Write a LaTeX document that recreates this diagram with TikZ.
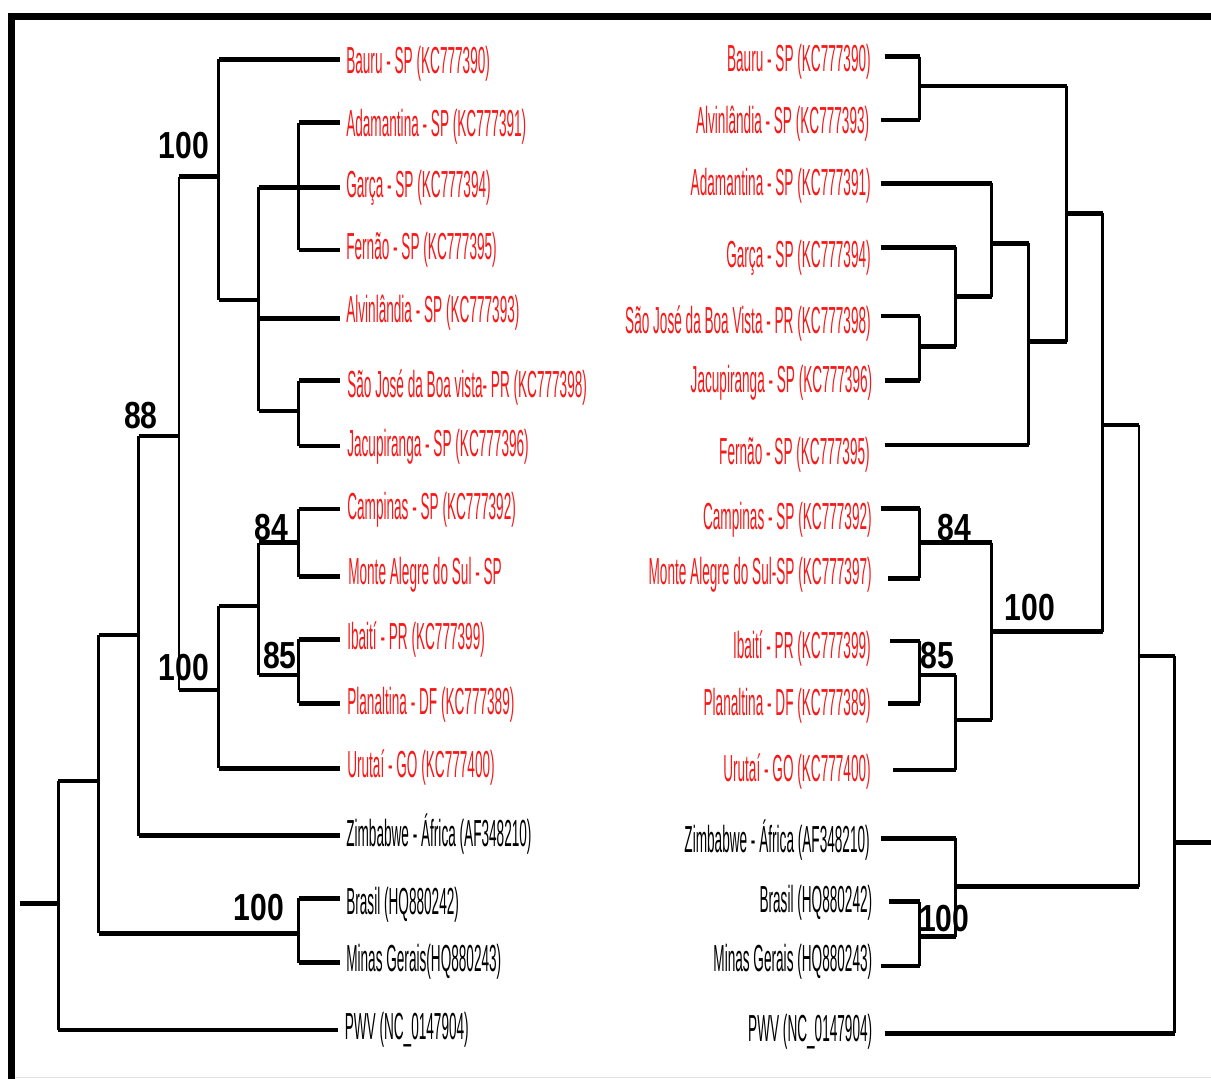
\documentclass[tikz,border=0pt]{standalone}
\usepackage{fontspec}
\setmainfont{Liberation Sans}
\usetikzlibrary{positioning}
\definecolor{isored}{RGB}{245,25,25}
\definecolor{edgegray}{RGB}{225,225,225}
\newcommand\nar[1]{\scalebox{0.361}[1]{#1}}
\newcommand\bsv[1]{\scalebox{0.8}[1]{#1}}

\begin{document}
\begin{tikzpicture}[x=0.025cm,y=-0.025cm,every node/.style={inner sep=0pt,font=\fontsize{26.8}{30}\selectfont},
 hb/.style={line width=3.2pt},vb/.style={line width=2.1pt},
 tipL/.style={anchor=west,text height=25pt,text depth=5.6pt},tipR/.style={anchor=east,text height=25pt,text depth=5.6pt},
 iso/.style={text=isored},boot/.style={font=\fontsize{26.8}{30}\selectfont\bfseries}]
\useasboundingbox(0,0)rectangle(1211,1079);
% frame
\draw[line width=5pt](11.9,1079)--(11.9,16.3)--(1211,16.3);
\draw[edgegray,line width=1pt](15,1077.5)--(1211,1077.5);
% left tree
\coordinate(L1)at(339.5,59.3);\coordinate(L2)at(339.5,122.7);\coordinate(L3)at(339.5,187.3);\coordinate(L4)at(339.5,250);
\coordinate(L5)at(339.5,318.3);\coordinate(L6)at(339.5,380.7);\coordinate(L7)at(339.5,446);\coordinate(L8)at(339.5,509);
\coordinate(L9)at(339.5,576.7);\coordinate(L10)at(339.5,639.3);\coordinate(L11)at(339.5,703.3);\coordinate(L12)at(339.5,768.3);
\coordinate(L13)at(339.5,835.7);\coordinate(L14)at(339.5,898.3);\coordinate(L15)at(339.5,962.7);\coordinate(L16)at(338.3,1030);
\coordinate(a1)at(298.5,187.3);\coordinate(a2)at(258.7,300);\coordinate(a3)at(298.5,411);\coordinate(a4)at(218.9,176.7);
\coordinate(a5)at(298.5,542.7);\coordinate(a6)at(298.5,675);\coordinate(a7)at(258.7,606);\coordinate(a8)at(218.9,690);
\coordinate(a9)at(179,436);\coordinate(a10)at(138.5,635);\coordinate(a11)at(298.5,933.3);\coordinate(a12)at(98.7,781);
\coordinate(a13)at(58.2,903.3);\coordinate(rootL)at(19.9,903.3);
\foreach \p/\c in {a1/L2,a1/L4,a2/L3,a2/L5,a2/a3,a3/L6,a3/L7,a4/L1,a4/a2,a5/L8,a5/L9,a6/L10,a6/L11,a7/a5,a7/a6,a8/a7,a8/L12,
 a9/a4,a9/a8,a10/a9,a10/L13,a11/L14,a11/L15,a12/a10,a12/a11,a13/a12,a13/L16}
 \draw[hb](\p|-\c)--(\c);
\foreach \p/\u/\d in {a1/L2/L4,a2/L3/a3,a3/L6/L7,a4/L1/a2,a5/L8/L9,a6/L10/L11,a7/a5/a6,a8/a7/L12,a9/a4/a8,a10/a9/L13,
 a11/L14/L15,a12/a10/a11,a13/a12/L16}
 \draw[vb](\p|-\u)--(\p|-\d);
\draw[hb](rootL)--(a13);
% left labels
\node[tipL,iso](lBau)at(346,59.5){\nar{Bauru - SP (KC777390)}};
\node[tipL,iso](lAda)at(346,122.6){\nar{Adamantina - SP (KC777391)}};
\node[tipL,iso](lGar)at(346,183.5){\nar{Garça - SP (KC777394)}};
\node[tipL,iso](lFer)at(346,246){\nar{Fernão - SP (KC777395)}};
\node[tipL,iso](lAlv)at(346,309){\nar{Alvinlândia - SP (KC777393)}};
\node[tipL,iso](lSJ)at(347,384){\nar{São José da Boa vista- PR (KC777398)}};
\node[tipL,iso](lJac)at(347,442.5){\nar{Jacupiranga - SP (KC777396)}};
\node[tipL,iso](lCam)at(347,506){\nar{Campinas - SP (KC777392)}};
\node[tipL,iso](lMon)at(348,571){\nar{Monte Alegre do Sul - SP}};
\node[tipL,iso](lIba)at(347,636){\nar{Ibaití - PR (KC777399)}};
\node[tipL,iso](lPla)at(347,701){\nar{Planaltina - DF (KC777389)}};
\node[tipL,iso](lUru)at(347,764){\nar{Urutaí - GO (KC777400)}};
\node[tipL](lZim)at(346,832.5){\nar{Zimbabwe - África (AF348210)}};
\node[tipL](lBra)at(346,901){\nar{Brasil (HQ880242)}};
\node[tipL](lMin)at(346,957.5){\nar{Minas Gerais(HQ880243)}};
\node[tipL](lPWV)at(344.5,1026){\nar{PWV (NC\_0147904)}};
\node[boot](s1)at(183.7,146){\bsv{100}};\node[boot](s2)at(141,415.5){\bsv{88}};
\node[boot](s3)at(271.7,528){\bsv{84}};\node[boot](s4)at(280,656){\bsv{85}};
\node[boot](s5)at(183.7,667.5){\bsv{100}};\node[boot](s6)at(259,907.5){\bsv{100}};
% right tree
\coordinate(R1)at(884.5,56.7);\coordinate(R2)at(880.6,120);\coordinate(R3)at(880.6,183.3);\coordinate(R4)at(880.6,247.3);
\coordinate(R5)at(880.6,316);\coordinate(R6)at(884.5,380.7);\coordinate(R7)at(884.5,445);\coordinate(R8)at(880.6,508.3);
\coordinate(R9)at(888.4,578.3);\coordinate(R10)at(890.3,641);\coordinate(R11)at(888.4,703.3);\coordinate(R12)at(893,770);
\coordinate(R13)at(880.6,838.3);\coordinate(R14)at(889.2,901.7);\coordinate(R15)at(880.6,966);\coordinate(R16)at(884.5,1033.3);
\coordinate(b1)at(919.6,86);\coordinate(b2)at(919.6,346.7);\coordinate(b3)at(955.8,296.7);\coordinate(b4)at(991.7,243.3);
\coordinate(b5)at(1028.7,341.7);\coordinate(b6)at(1066.5,213.3);\coordinate(b7)at(919.6,542.7);\coordinate(b8)at(919.6,675);
\coordinate(b9)at(955.8,720);\coordinate(b10)at(991.7,631.7);\coordinate(b11)at(1102.7,425);\coordinate(b12)at(919.6,936.7);
\coordinate(b13)at(955.8,886.7);\coordinate(b14)at(1139,656);\coordinate(b15)at(1174.8,842.7);\coordinate(rootR)at(1211,842.7);
\foreach \p/\c in {b1/R1,b1/R2,b2/R5,b2/R6,b3/R4,b3/b2,b4/R3,b4/b3,b5/b4,b5/R7,b6/b1,b6/b5,b7/R8,b7/R9,b8/R10,b8/R11,
 b9/b8,b9/R12,b10/b7,b10/b9,b11/b6,b11/b10,b12/R14,b12/R15,b13/R13,b13/b12,b14/b11,b14/b13,b15/b14,b15/R16}
 \draw[hb](\c)--(\p|-\c);
\foreach \p/\u/\d in {b1/R1/R2,b2/R5/R6,b3/R4/b2,b4/R3/b3,b5/b4/R7,b6/b1/b5,b7/R8/R9,b8/R10/R11,b9/b8/R12,b10/b7/b9,
 b11/b6/b10,b12/R14/R15,b13/R13/b12,b14/b11/b13,b15/b14/R16}
 \draw[vb](\p|-\u)--(\p|-\d);
\draw[hb](b15)--(rootR);
% right labels
\node[tipR,iso](rBau)at(871,58){\nar{Bauru - SP (KC777390)}};
\node[tipR,iso](rAlv)at(869.5,120){\nar{Alvinlândia - SP (KC777393)}};
\node[tipR,iso](rAda)at(871,181.7){\nar{Adamantina - SP (KC777391)}};
\node[tipR,iso](rGar)at(871,253.5){\nar{Garça - SP (KC777394)}};
\node[tipR,iso](rSJ)at(871,320){\nar{São José da Boa Vista - PR (KC777398)}};
\node[tipR,iso](rJac)at(872.5,378.5){\nar{Jacupiranga - SP (KC777396)}};
\node[tipR,iso](rFer)at(870,451){\nar{Fernão - SP (KC777395)}};
\node[tipR,iso](rCam)at(872,516){\nar{Campinas - SP (KC777392)}};
\node[tipR,iso](rMon)at(872,571){\nar{Monte Alegre do Sul-SP (KC777397)}};
\node[tipR,iso](rIba)at(871,644.5){\nar{Ibaití - PR (KC777399)}};
\node[tipR,iso](rPla)at(871,701.5){\nar{Planaltina - DF (KC777389)}};
\node[tipR,iso](rUru)at(871,768){\nar{Urutaí - GO (KC777400)}};
\node[tipR](rZim)at(870,839){\nar{Zimbabwe - África (AF348210)}};
\node[tipR](rBra)at(872.5,899){\nar{Brasil (HQ880242)}};
\node[tipR](rMin)at(872.5,957.5){\nar{Minas Gerais (HQ880243)}};
\node[tipR](rPWV)at(872.5,1027.5){\nar{PWV (NC\_0147904)}};
\node[boot](t1)at(954.7,528){\bsv{84}};\node[boot](t2)at(1029.7,608){\bsv{100}};
\node[boot](t3)at(937,656){\bsv{85}};\node[boot](t4)at(944.3,918.3){\bsv{100}};
\end{tikzpicture}
\end{document}
